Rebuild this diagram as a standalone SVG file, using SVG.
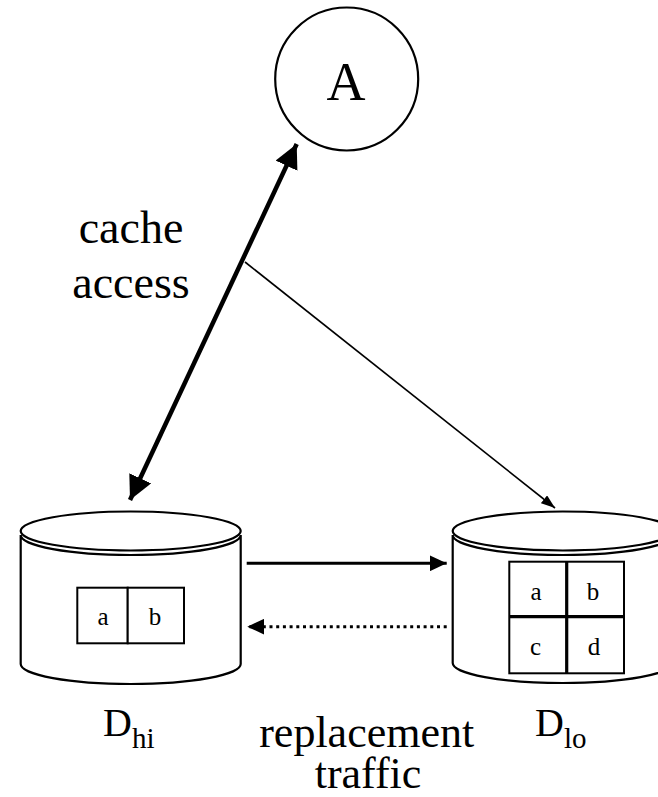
<svg xmlns="http://www.w3.org/2000/svg" width="658" height="797" viewBox="0 0 658 797">
  <style>
    .lbl { font-family: "Liberation Serif", "Times New Roman", serif; fill: #000; }
    .shape { fill: #fff; stroke: #000; stroke-width: 2.2; }
    .cell { fill: #fff; stroke: #000; stroke-width: 2; }
  </style>
  <defs>
    <marker id="headBig" markerUnits="userSpaceOnUse" markerWidth="26" markerHeight="24" refX="24" refY="12" orient="auto-start-reverse">
      <path d="M0,0 L24,12 L0,24 Z" fill="#000"/>
    </marker>
    <marker id="headSmall" markerUnits="userSpaceOnUse" markerWidth="14" markerHeight="10" refX="14" refY="5" orient="auto">
      <path d="M0,0 L14,5 L0,10 Z" fill="#000"/>
    </marker>
    <marker id="headMid" markerUnits="userSpaceOnUse" markerWidth="17" markerHeight="16" refX="17" refY="8" orient="auto">
      <path d="M0,0 L17,8 L0,16 Z" fill="#000"/>
    </marker>
  </defs>

  <rect width="658" height="797" fill="#fff"/>

  <!-- Application node -->
  <g id="node-A">
    <circle cx="346.7" cy="79" r="71.5" class="shape"/>
    <text class="lbl" x="346" y="100" font-size="54" text-anchor="middle">A</text>
  </g>

  <!-- High-level cache disk -->
  <g id="node-Dhi">
    <path class="shape" d="M20.7,535 L20.7,664 A110,20 0 0 0 240.7,664 L240.7,535 A110,20 0 0 1 20.7,535 Z"/>
    <ellipse class="shape" cx="130.7" cy="531" rx="110" ry="19.5"/>
    <rect class="cell" x="77.3" y="587.7" width="50.4" height="55.6"/>
    <rect class="cell" x="127.7" y="587.7" width="56.3" height="55.6"/>
    <text class="lbl" x="103" y="625" font-size="25" text-anchor="middle">a</text>
    <text class="lbl" x="155" y="625" font-size="25" text-anchor="middle">b</text>
    <text class="lbl" x="103" y="736" font-size="40">D<tspan font-size="29" dy="12">hi</tspan></text>
  </g>

  <!-- Low-level cache disk -->
  <g id="node-Dlo">
    <path class="shape" d="M452.7,535 L452.7,663 A110,20 0 0 0 672.7,663 L672.7,535 A110,20 0 0 1 452.7,535 Z"/>
    <ellipse class="shape" cx="562.7" cy="531" rx="110" ry="19.5"/>
    <rect class="cell" x="509.3" y="561.7" width="114.7" height="111.6"/>
    <line x1="566.7" y1="561.7" x2="566.7" y2="673.3" stroke="#000" stroke-width="3.2"/>
    <line x1="509.3" y1="616.7" x2="624" y2="616.7" stroke="#000" stroke-width="3.2"/>
    <text class="lbl" x="536" y="600" font-size="25" text-anchor="middle">a</text>
    <text class="lbl" x="593" y="600" font-size="25" text-anchor="middle">b</text>
    <text class="lbl" x="535.5" y="655" font-size="25" text-anchor="middle">c</text>
    <text class="lbl" x="594" y="655" font-size="25" text-anchor="middle">d</text>
    <text class="lbl" x="535" y="736" font-size="40">D<tspan font-size="29" dy="12">lo</tspan></text>
  </g>

  <!-- Connectors -->
  <g id="connectors" fill="none" stroke="#000">
    <line x1="130" y1="500" x2="296.7" y2="144" stroke-width="4.5" marker-start="url(#headBig)" marker-end="url(#headBig)"/>
    <line x1="245" y1="262" x2="555" y2="508" stroke-width="1.6" marker-end="url(#headSmall)"/>
    <line x1="246.7" y1="563.3" x2="446.7" y2="563.3" stroke-width="3" marker-end="url(#headMid)"/>
    <line x1="446.7" y1="626.7" x2="247.3" y2="626.7" stroke-width="3" stroke-dasharray="3 3.7" marker-end="url(#headMid)"/>
  </g>

  <!-- Connector labels -->
  <g id="labels">
    <text class="lbl" x="131" y="243" font-size="46" text-anchor="middle">cache</text>
    <text class="lbl" x="131" y="298" font-size="46" text-anchor="middle">access</text>
    <text class="lbl" x="366.7" y="747" font-size="44" text-anchor="middle">replacement</text>
    <text class="lbl" x="368" y="788" font-size="44" text-anchor="middle">traffic</text>
  </g>
</svg>
